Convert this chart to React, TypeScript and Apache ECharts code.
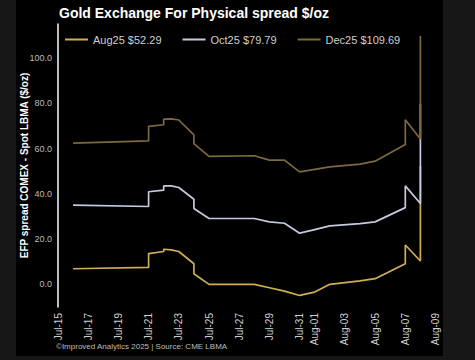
import React, { useEffect, useRef } from "react";
import * as echarts from "echarts";

// Days after Jul-15 (2025) for each observation (repeated days = intraday steps)
const obsDays = [1, 6, 6, 7, 7, 7.5, 8, 9, 9, 10, 13, 14, 15, 16, 17, 18, 20, 21, 23, 23, 24, 24];

const aug25 = [6.9, 7.5, 13.6, 14.5, 15.5, 15.2, 14.5, 9.1, 4.7, 0.0, 0.0, -1.5, -3.0, -4.9, -3.4, 0.0, 1.5, 2.5, 9.1, 17.4, 10.3, 52.29];
const oct25 = [35.0, 34.4, 40.9, 41.6, 43.5, 43.5, 42.8, 37.6, 33.5, 29.1, 29.1, 27.6, 27.0, 22.6, 24.2, 25.8, 26.8, 27.6, 33.9, 43.5, 35.7, 79.79];
const dec25 = [62.4, 63.4, 69.8, 70.5, 73.0, 73.1, 72.6, 66.0, 62.2, 56.5, 56.8, 54.9, 54.9, 49.7, 50.8, 51.9, 53.1, 54.4, 61.8, 72.7, 64.2, 109.69];

const xTickDays = [0, 2, 4, 6, 8, 10, 12, 14, 16, 17, 19, 21, 23, 25];
const xTickLabels = ["Jul-15", "Jul-17", "Jul-19", "Jul-21", "Jul-23", "Jul-25", "Jul-27", "Jul-29", "Jul-31", "Aug-01", "Aug-03", "Aug-05", "Aug-07", "Aug-09"];
const yTickValues = [0, 20, 40, 60, 80, 100];

const seriesNames = ["Aug25", "Oct25", "Dec25"];
const seriesValues = [aug25, oct25, dec25];
const seriesColors = ["#cfae55", "#c6cadf", "#7b6a40"];

const FONT = "'Liberation Sans', Arial, sans-serif";

export default function App() {
  const ref = useRef<HTMLDivElement>(null);
  useEffect(() => {
    if (!ref.current) return;
    const chart = echarts.init(ref.current, undefined, { renderer: "svg" });
    const series = seriesNames.map((n, i) => {
      const vals = seriesValues[i];
      return {
        name: `${n} $${vals[vals.length - 1].toFixed(2)}`,
        type: "line",
        showSymbol: false,
        symbol: "none",
        data: obsDays.map((d, j) => [d, vals[j]]),
        lineStyle: { color: seriesColors[i], width: 1.7 },
        itemStyle: { color: seriesColors[i] },
        z: 2 + i,
      };
    });
    chart.setOption({
      animation: false,
      backgroundColor: "#171717",
      textStyle: { fontFamily: FONT },
      graphic: [
        {
          type: "rect",
          z: -10,
          silent: true,
          shape: { x: 16, y: 0, width: 427, height: 356 },
          style: { fill: "#000000" },
        },
        {
          type: "text",
          left: 56,
          top: 342,
          style: {
            text: "©Improved Analytics 2025 | Source: CME LBMA",
            fill: "#bdbdbd",
            font: `8px ${FONT}`,
          },
        },
      ],
      title: {
        text: "Gold Exchange For Physical spread $/oz",
        left: 54,
        top: 1,
        textStyle: { color: "#ffffff", fontSize: 14, fontWeight: "bold", fontFamily: FONT },
      },
      legend: {
        left: 60,
        top: 29,
        icon: "rect",
        itemWidth: 23,
        itemHeight: 2,
        itemGap: 21,
        textStyle: { color: "#cfcfcf", fontSize: 11, fontFamily: FONT },
        data: series.map((s) => s.name),
      },
      grid: { left: 58, right: 39.5, top: 24, bottom: 53, containLabel: false },
      xAxis: {
        type: "value",
        min: 0,
        max: 25,
        interval: 1,
        axisLine: { show: false },
        axisTick: { show: false },
        splitLine: { show: false },
        axisLabel: {
          rotate: 90,
          margin: 6,
          color: "#d0d0d0",
          fontSize: 10,
          fontFamily: FONT,
          formatter: (v: number) => {
            const k = xTickDays.indexOf(Math.round(v));
            return k >= 0 && Math.abs(v - Math.round(v)) < 1e-6 ? xTickLabels[k] : "";
          },
        },
      },
      yAxis: {
        type: "value",
        min: -10,
        max: 115,
        interval: 10,
        name: "EFP spread COMEX - Spot LBMA ($/oz)",
        nameLocation: "middle",
        nameGap: 29,
        nameRotate: 90,
        nameMoveOverlap: false,
        nameTextStyle: { color: "#ffffff", fontSize: 10, fontWeight: "bold", fontFamily: FONT },
        axisLine: { show: true, lineStyle: { color: "#ffffff", width: 1.5 } },
        axisTick: { show: false },
        splitLine: { show: false },
        axisLabel: {
          margin: 6,
          color: "#bdbdbd",
          fontSize: 9,
          fontFamily: FONT,
          showMinLabel: true,
          showMaxLabel: true,
          formatter: (v: number) => (yTickValues.indexOf(Math.round(v)) >= 0 && Math.abs(v - Math.round(v)) < 1e-6 ? v.toFixed(1) : ""),
        },
      },
      series,
    });
    return () => chart.dispose();
  }, []);
  return <div ref={ref} style={{ position: "fixed", left: 0, top: 0, width: 475, height: 360 }} />;
}
